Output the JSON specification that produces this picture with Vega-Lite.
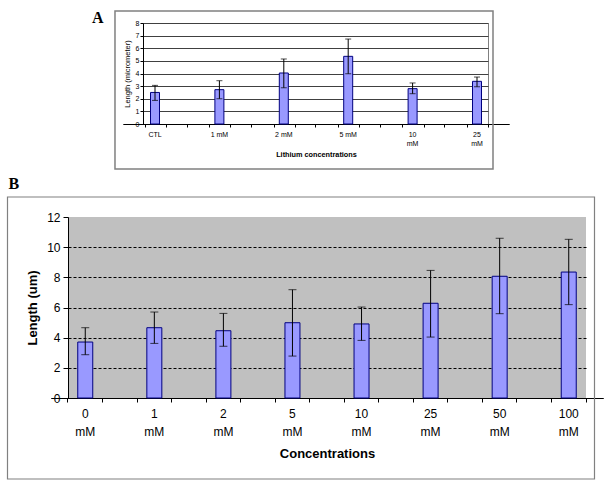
{
  "$schema": "https://vega.github.io/schema/vega-lite/v6.json",
  "padding": {"left": 6, "top": 9, "right": 2, "bottom": 2},
  "config": {
    "view": {"stroke": null},
    "font": "Liberation Sans",
    "axis": {"domainColor": "#000", "tickColor": "#000", "labelColor": "#000", "titleColor": "#000", "labelFont": "Liberation Sans", "titleFont": "Liberation Sans"}
  },
  "spacing": 5,
  "vconcat": [
    {
      "spacing": 20,
      "hconcat": [
        {"width": 3, "height": 1, "data": {"values": []}, "mark": "point"},
        {
          "width": 345,
          "height": 101,
          "view": {"stroke": "#808080", "strokeWidth": 1},
          "resolve": {"scale": {"x": "independent", "y": "independent"}},
          "layer": [
            {
              "data": {"values": [{"panel": "A"}]},
              "layer": [
                {
                  "mark": {"type": "rect", "fill": "transparent", "stroke": "#808080", "strokeWidth": 1.5},
                  "encoding": {
                    "x": {"datum": -0.0812, "type": "quantitative", "scale": {"domain": [0, 1]}, "axis": null},
                    "x2": {"datum": 1.0145},
                    "y": {"datum": -3.564, "type": "quantitative", "scale": {"domain": [0, 8]},
                      "axis": {"orient": "left", "values": [1, 2, 3, 4, 5, 6, 7, 8], "grid": true, "gridColor": "#404040", "gridWidth": 1, "labels": false, "ticks": false, "domain": false, "title": null}},
                    "y2": {"datum": 8.95}
                  }
                },
                {
                  "mark": {"type": "text", "text": "A", "font": "Liberation Serif", "fontSize": 16, "fontWeight": "bold", "align": "left", "baseline": "alphabetic", "color": "#000"},
                  "encoding": {
                    "x": {"datum": -0.148, "type": "quantitative", "scale": {"domain": [0, 1]}, "axis": null},
                    "y": {"datum": 8.0, "type": "quantitative", "scale": {"domain": [0, 8]},
                      "axis": {"orient": "left", "values": [1, 2, 3, 4, 5, 6, 7, 8], "grid": true, "gridColor": "#404040", "gridWidth": 1, "labels": false, "ticks": false, "domain": false, "title": null}}
                  }
                }
              ]
            },
            {
              "data": {"values": [
                {"conc": "CTL", "mean": 2.5, "lo": 1.87, "hi": 3.06},
                {"conc": "1 mM", "mean": 2.72, "lo": 2.0, "hi": 3.43},
                {"conc": "2 mM", "mean": 4.04, "lo": 2.87, "hi": 5.15},
                {"conc": "5 mM", "mean": 5.36, "lo": 3.98, "hi": 6.73},
                {"conc": "10 mM", "mean": 2.8, "lo": 2.4, "hi": 3.25},
                {"conc": "25 mM", "mean": 3.38, "lo": 2.95, "hi": 3.72}
              ]},
              "resolve": {"axis": {"x": "independent"}},
              "layer": [
                {
                  "mark": {"type": "bar", "width": 9, "fill": "#9999FF", "stroke": "#000080", "strokeWidth": 1},
                  "encoding": {
                    "x": {"field": "conc", "type": "nominal", "sort": null,
                      "scale": {"type": "band", "range": [-20.2, 366.2], "paddingInner": 0, "paddingOuter": 0},
                      "axis": {"orient": "bottom", "title": "Lithium concentrations", "titleFontSize": 7.3, "titleFontWeight": "bold", "titlePadding": 4,
                        "labelFontSize": 7, "labelAngle": 0, "labelPadding": 3, "labelLineHeight": 9,
                        "labelExpr": "indexof(['10 mM','25 mM'], datum.label) >= 0 ? split(datum.label, ' ') : datum.label",
                        "tickSize": 3, "bandPosition": 0.35, "grid": false}},
                    "y": {"field": "mean", "type": "quantitative", "title": "Length (micrometer)", "scale": {"domain": [0, 8]},
                      "axis": {"orient": "left", "values": [0, 1, 2, 3, 4, 5, 6, 7, 8], "tickSize": 3, "labelFontSize": 7, "labelPadding": 1,
                        "titleFontSize": 7.5, "titleFontWeight": "normal", "titlePadding": 4, "grid": false}}
                  }
                },
                {
                  "mark": {"type": "rule", "color": "#000", "strokeWidth": 1},
                  "encoding": {
                    "x": {"field": "conc", "type": "nominal", "sort": null, "scale": {"type": "band"},
                      "axis": {"orient": "bottom", "title": null, "labels": false, "domain": false, "grid": false, "tickSize": 3, "bandPosition": 0.68}},
                    "y": {"field": "lo", "type": "quantitative", "title": "Length (micrometer)", "scale": {"domain": [0, 8]},
                      "axis": {"orient": "left", "values": [0, 1, 2, 3, 4, 5, 6, 7, 8], "tickSize": 3, "labelFontSize": 7, "labelPadding": 1,
                        "titleFontSize": 7.5, "titleFontWeight": "normal", "titlePadding": 4, "grid": false}},
                    "y2": {"field": "hi"}
                  }
                },
                {
                  "transform": [{"fold": ["lo", "hi"], "as": ["end", "val"]}],
                  "mark": {"type": "tick", "color": "#000", "size": 6, "thickness": 1},
                  "encoding": {
                    "x": {"field": "conc", "type": "nominal", "sort": null, "scale": {"type": "band"},
                      "axis": {"orient": "bottom", "title": null, "labels": false, "domain": false, "grid": false, "tickSize": 3, "bandPosition": 1,
                        "tickOpacity": {"condition": {"test": "datum.value === '25 mM'", "value": 0}, "value": 1}}},
                    "y": {"field": "val", "type": "quantitative", "title": "Length (micrometer)", "scale": {"domain": [0, 8]},
                      "axis": {"orient": "left", "values": [0, 1, 2, 3, 4, 5, 6, 7, 8], "tickSize": 3, "labelFontSize": 7, "labelPadding": 1,
                        "titleFontSize": 7.5, "titleFontWeight": "normal", "titlePadding": 4, "grid": false}}
                  }
                }
              ]
            }
          ]
        }
      ]
    },
    {
      "width": 518,
      "height": 181,
      "view": {"fill": "#C0C0C0", "stroke": null},
      "resolve": {"scale": {"x": "independent", "y": "independent"}},
      "layer": [
        {
          "data": {"values": [{"panel": "B"}]},
          "layer": [
            {
              "mark": {"type": "rect", "fill": "transparent", "stroke": "#808080", "strokeWidth": 1.2},
              "encoding": {
                "x": {"datum": -0.1168, "type": "quantitative", "scale": {"domain": [0, 1]}, "axis": null},
                "x2": {"datum": 1.0164},
                "y": {"datum": -5.37, "type": "quantitative", "scale": {"domain": [0, 12]},
                  "axis": {"orient": "left", "values": [2, 4, 6, 8, 10], "grid": true, "gridColor": "#000", "gridDash": [3, 2], "gridWidth": 1, "labels": false, "ticks": false, "domain": false, "title": null}},
                "y2": {"datum": 13.326}
              }
            },
            {
              "mark": {"type": "text", "text": "B", "font": "Liberation Serif", "fontSize": 16, "fontWeight": "bold", "align": "left", "baseline": "alphabetic", "color": "#000"},
              "encoding": {
                "x": {"datum": -0.1149, "type": "quantitative", "scale": {"domain": [0, 1]}, "axis": null},
                "y": {"datum": 13.856, "type": "quantitative", "scale": {"domain": [0, 12]},
                  "axis": {"orient": "left", "values": [2, 4, 6, 8, 10], "grid": true, "gridColor": "#000", "gridDash": [3, 2], "gridWidth": 1, "labels": false, "ticks": false, "domain": false, "title": null}}
              }
            }
          ]
        },
        {
          "data": {"values": [
            {"conc": "0 mM", "mean": 3.71, "lo": 2.87, "hi": 4.66},
            {"conc": "1 mM", "mean": 4.66, "lo": 3.62, "hi": 5.7},
            {"conc": "2 mM", "mean": 4.46, "lo": 3.43, "hi": 5.61},
            {"conc": "5 mM", "mean": 4.99, "lo": 2.78, "hi": 7.18},
            {"conc": "10 mM", "mean": 4.91, "lo": 3.82, "hi": 6.03},
            {"conc": "25 mM", "mean": 6.28, "lo": 4.04, "hi": 8.46},
            {"conc": "50 mM", "mean": 8.07, "lo": 5.59, "hi": 10.59},
            {"conc": "100 mM", "mean": 8.35, "lo": 6.19, "hi": 10.52}
          ]},
          "resolve": {"axis": {"x": "independent"}},
          "layer": [
            {
              "mark": {"type": "bar", "width": 15, "fill": "#9999FF", "stroke": "#000080", "strokeWidth": 1},
              "encoding": {
                "x": {"field": "conc", "type": "nominal", "sort": null,
                  "scale": {"type": "band", "range": [-17.27, 535.27], "paddingInner": 0, "paddingOuter": 0},
                  "axis": {"orient": "bottom", "title": "Concentrations", "titleFontSize": 13, "titleFontWeight": "bold", "titlePadding": 10,
                    "labelFontSize": 12, "labelAngle": 0, "labelPadding": 6, "labelLineHeight": 18,
                    "labelExpr": "split(datum.label, ' ')",
                    "tickSize": 4, "bandPosition": 0.25, "grid": false}},
                "y": {"field": "mean", "type": "quantitative", "title": "Length (um)", "scale": {"domain": [0, 12]},
                  "axis": {"orient": "left", "values": [0, 2, 4, 6, 8, 10, 12], "tickSize": 5, "labelFontSize": 12, "labelPadding": 3,
                    "titleFontSize": 13, "titleFontWeight": "bold", "titlePadding": 7, "grid": false}}
              }
            },
            {
              "mark": {"type": "rule", "color": "#000", "strokeWidth": 1},
              "encoding": {
                "x": {"field": "conc", "type": "nominal", "sort": null, "scale": {"type": "band"},
                  "axis": {"orient": "bottom", "title": null, "labels": false, "domain": false, "grid": false, "tickSize": 4, "bandPosition": 0.75}},
                "y": {"field": "lo", "type": "quantitative", "title": "Length (um)", "scale": {"domain": [0, 12]},
                  "axis": {"orient": "left", "values": [0, 2, 4, 6, 8, 10, 12], "tickSize": 5, "labelFontSize": 12, "labelPadding": 3,
                    "titleFontSize": 13, "titleFontWeight": "bold", "titlePadding": 7, "grid": false}},
                "y2": {"field": "hi"}
              }
            },
            {
              "transform": [{"fold": ["lo", "hi"], "as": ["end", "val"]}],
              "mark": {"type": "tick", "color": "#000", "size": 8, "thickness": 1},
              "encoding": {
                "x": {"field": "conc", "type": "nominal", "sort": null, "scale": {"type": "band"}, "axis": null},
                "y": {"field": "val", "type": "quantitative", "title": "Length (um)", "scale": {"domain": [0, 12]},
                  "axis": {"orient": "left", "values": [0, 2, 4, 6, 8, 10, 12], "tickSize": 5, "labelFontSize": 12, "labelPadding": 3,
                    "titleFontSize": 13, "titleFontWeight": "bold", "titlePadding": 7, "grid": false}}
              }
            }
          ]
        }
      ]
    }
  ]
}
